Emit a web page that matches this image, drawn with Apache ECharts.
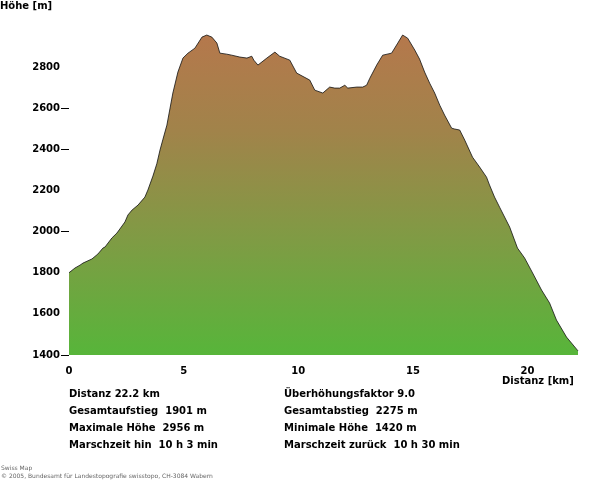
<!DOCTYPE html>
<html>
<head>
<meta charset="utf-8">
<script src="https://cdn.jsdelivr.net/npm/echarts@6/dist/echarts.min.js"></script>
<style>html,body{margin:0;padding:0;background:#fff;}#c{width:600px;height:491px;}</style>
</head>
<body>
<div id="c"></div>
<script>
// distance along route [km]
var distKm = [0, 0.26, 0.48, 0.61, 1.00, 1.26, 1.48, 1.57, 1.87, 2.09, 2.44, 2.57, 2.75, 3.01, 3.31, 3.44, 3.66, 3.83, 3.97, 4.10, 4.27, 4.53, 4.75, 4.97, 5.19, 5.49, 5.80, 6.01, 6.23, 6.45, 6.58, 6.88, 7.10, 7.45, 7.76, 7.97, 8.06, 8.24, 8.63, 8.98, 9.19, 9.63, 9.93, 10.50, 10.72, 11.07, 11.37, 11.59, 11.81, 12.03, 12.16, 12.55, 12.81, 12.98, 13.12, 13.42, 13.68, 14.07, 14.34, 14.55, 14.77, 15.08, 15.29, 15.51, 15.73, 15.95, 16.17, 16.38, 16.69, 16.82, 17.04, 17.26, 17.60, 17.91, 18.21, 18.34, 18.56, 18.78, 19.22, 19.56, 19.87, 20.22, 20.61, 20.96, 21.26, 21.70, 22.20];
// elevation [m]
var elevM = [1800, 1823, 1837, 1847, 1867, 1891, 1920, 1925, 1969, 1993, 2047, 2081, 2105, 2129, 2168, 2202, 2270, 2330, 2397, 2450, 2518, 2674, 2776, 2844, 2868, 2892, 2946, 2956, 2946, 2917, 2868, 2863, 2858, 2849, 2844, 2853, 2834, 2810, 2844, 2873, 2853, 2834, 2771, 2737, 2688, 2674, 2703, 2698, 2698, 2712, 2698, 2703, 2703, 2712, 2746, 2810, 2858, 2868, 2917, 2956, 2941, 2883, 2839, 2776, 2722, 2674, 2615, 2567, 2503, 2499, 2494, 2445, 2362, 2314, 2265, 2227, 2168, 2119, 2022, 1920, 1872, 1799, 1716, 1653, 1570, 1487, 1420];
var xTickLabels = [0, 5, 10, 15, 20];
var yTickLabels = [1400, 1600, 1800, 2000, 2200, 2400, 2600, 2800];
var yTickMarks = [1400, 2000, 2400, 2600];
var statsLeft = ['Distanz 22.2 km', 'Gesamtaufstieg  1901 m', 'Maximale Höhe  2956 m', 'Marschzeit hin  10 h 3 min'];
var statsRight = ['Überhöhungsfaktor 9.0', 'Gesamtabstieg  2275 m', 'Minimale Höhe  1420 m', 'Marschzeit zurück  10 h 30 min'];
var copyrightLines = ['Swiss Map', '© 2005, Bundesamt für Landestopografie swisstopo, CH-3084 Wabern'];

var FONT = 'DejaVu Sans';
var chart = echarts.init(document.getElementById('c'), null, {renderer: 'canvas'});
var data = distKm.map(function (d, i) { return [d, elevM[i]]; });

var graphics = [
  {type: 'text', left: 0, top: 1, style: {text: 'Höhe [m]', font: 'bold 10px "' + FONT + '"', fill: '#000'}},
  {type: 'text', left: 502, top: 376, style: {text: 'Distanz [km]', font: 'bold 10px "' + FONT + '"', fill: '#000'}}
];
statsLeft.forEach(function (t, i) {
  graphics.push({type: 'text', left: 69, top: 389 + i * 17, style: {text: t, font: 'bold 10px "' + FONT + '"', fill: '#000'}});
});
statsRight.forEach(function (t, i) {
  graphics.push({type: 'text', left: 284, top: 389 + i * 17, style: {text: t, font: 'bold 10px "' + FONT + '"', fill: '#000'}});
});
copyrightLines.forEach(function (t, i) {
  graphics.push({type: 'text', left: 1, top: 465 + i * 8, style: {text: t, font: '6px "' + FONT + '"', fill: '#666'}});
});

chart.setOption({
  animation: false,
  backgroundColor: '#fff',
  grid: {left: 69, right: 22, top: 26, bottom: 136, containLabel: false},
  xAxis: {
    type: 'value', min: 0, max: 22.2, interval: 5,
    axisLine: {show: false}, axisTick: {show: false}, splitLine: {show: false},
    axisLabel: {customValues: xTickLabels, margin: 11, color: '#000', fontFamily: FONT, fontSize: 10, fontWeight: 'bold',
      formatter: function (v) { return String(v); }}
  },
  yAxis: {
    type: 'value', min: 1400, max: 3000, interval: 200,
    axisLine: {show: false}, splitLine: {show: false},
    axisTick: {show: true, customValues: yTickMarks, length: 8, lineStyle: {color: '#000', width: 1}},
    axisLabel: {customValues: yTickLabels, margin: 9, color: '#000', fontFamily: FONT, fontSize: 10, fontWeight: 'bold',
      formatter: function (v) { return String(v); }}
  },
  series: [{
    type: 'line', data: data, symbol: 'none', smooth: false,
    lineStyle: {color: '#111', width: 0.8},
    areaStyle: {
      origin: 'start', opacity: 1,
      color: new echarts.graphic.LinearGradient(0, 0, 0, 1, [
        {offset: 0, color: '#b5784c'},
        {offset: 0.3, color: '#a1834a'},
        {offset: 0.65, color: '#7e9c44'},
        {offset: 1, color: '#57b53a'}
      ])
    }
  }],
  graphic: graphics
});
</script>
</body>
</html>
